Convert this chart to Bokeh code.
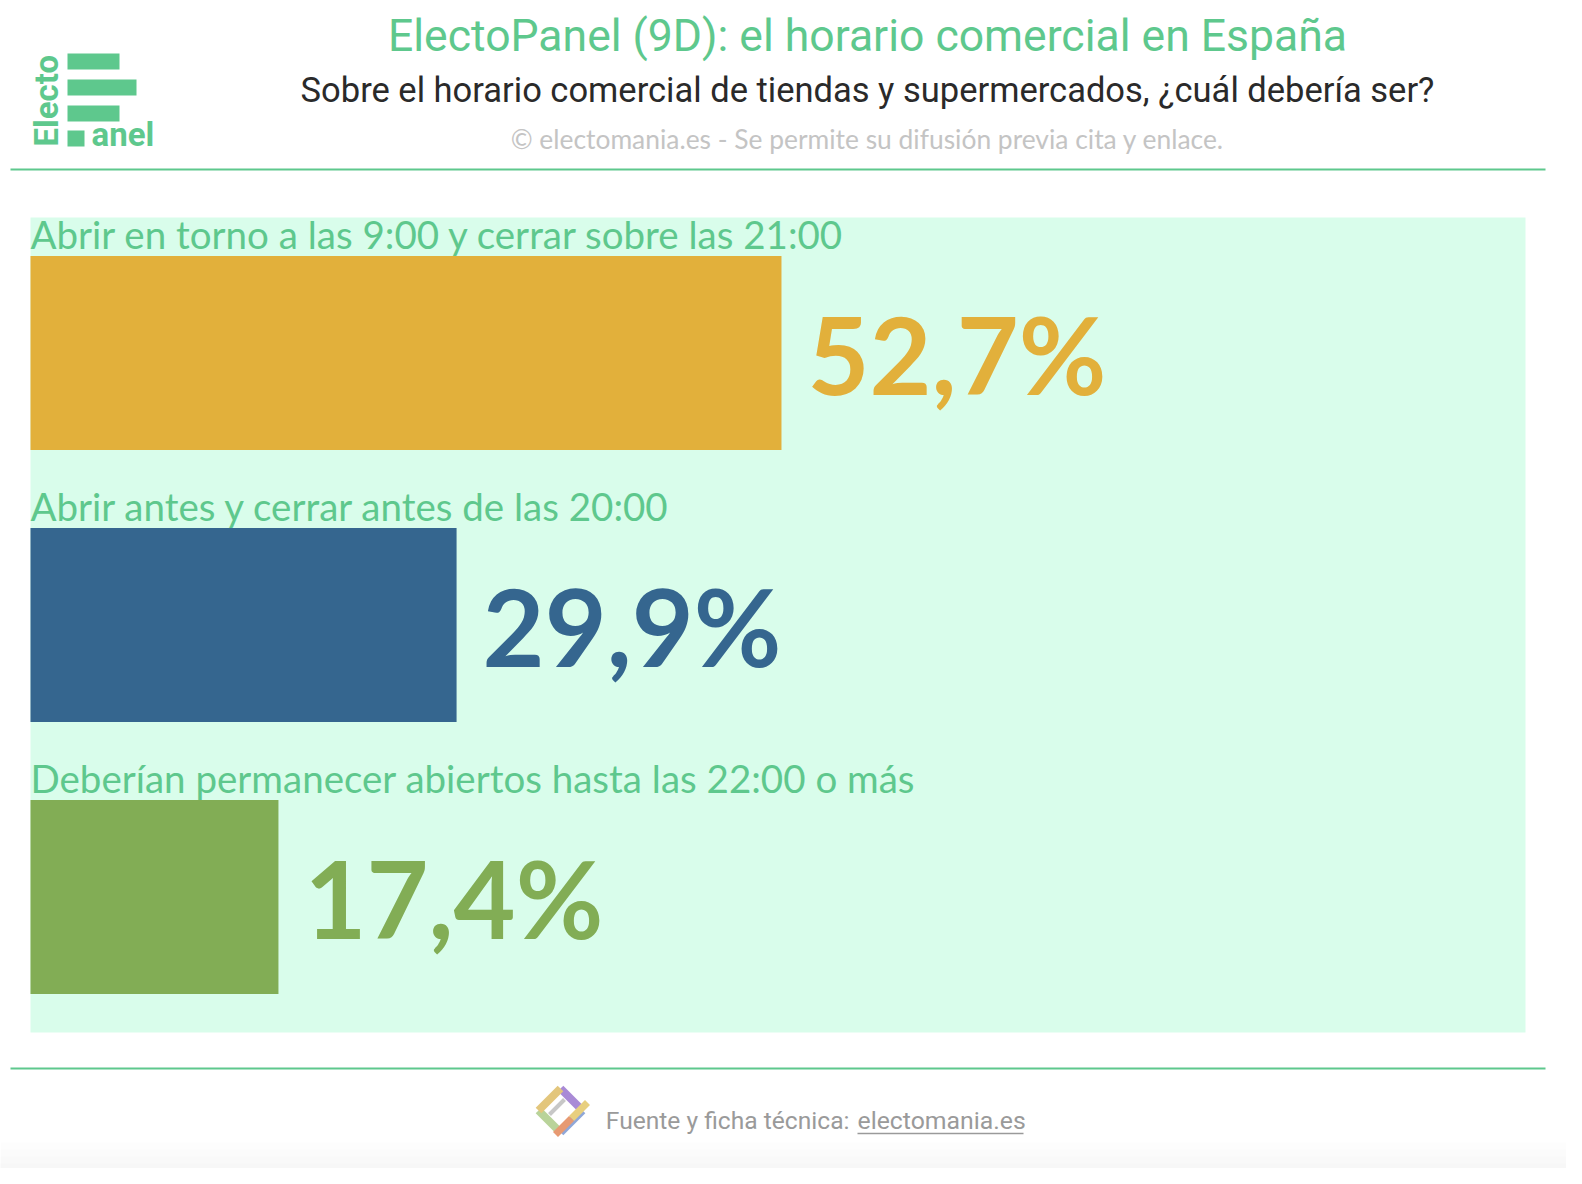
import numpy as np
from bokeh.plotting import figure
from bokeh.models import Range1d
from bokeh.core.properties import value
from bokeh.embed import file_html
from bokeh.resources import INLINE

# ---------------- data ----------------
categories = [
    "Abrir en torno a las 9:00 y cerrar sobre las 21:00",
    "Abrir antes y cerrar antes de las 20:00",
    "Deberían permanecer abiertos hasta las 22:00 o más",
]
values = [52.7, 29.9, 17.4]
bar_colors = ["#e2b03b", "#35668f", "#82ad55"]
value_labels = ["52,7%", "29,9%", "17,4%"]

title = "ElectoPanel (9D): el horario comercial en España"
subtitle = "Sobre el horario comercial de tiendas y supermercados, ¿cuál debería ser?"
credit = "© electomania.es - Se permite su difusión previa cita y enlace."
footer_a = "Fuente y ficha técnica:"
footer_b = "electomania.es"

# ---------------- layout ----------------
W, H = 1566, 1168
OFF = 8          # page margin
X0 = 38          # page x of 0 %
PX_PER_PCT = 14.25
Y0 = 360.5       # page y of first bar centre
ROW = 272.0      # px between rows

def X(px):
    return (px - X0) / PX_PER_PCT

def Y(py):
    return (py - Y0) / ROW

GREEN = "#5ec88d"

p = figure(width=W, height=H, output_backend="svg", toolbar_location=None,
           x_range=Range1d(X(OFF), X(OFF + W)),
           y_range=Range1d(Y(OFF + H), Y(OFF)),
           min_border=0, outline_line_color=None)
p.axis.visible = False
p.grid.visible = False
p.background_fill_color = "white"
p.border_fill_color = "white"

# footer light gray gradient band
for i, c in enumerate(["#fdfdfd", "#fbfbfb", "#f9f9f9", "#f7f7f7"]):
    p.quad(left=X(OFF), right=X(OFF + W), top=Y(1150 + i * 7), bottom=Y(1180),
           fill_color=c, line_color=None)

# mint panel
p.quad(left=X(38), right=X(1533), top=Y(225), bottom=Y(1040),
       fill_color="#d9fdeb", line_color=None)

# separator lines
p.segment(x0=[X(18), X(18)], x1=[X(1553), X(1553)], y0=[Y(177), Y(1076)], y1=[Y(177), Y(1076)],
          line_color=GREEN, line_width=2)

# bars
idx = list(range(len(values)))
p.hbar(y=idx, left=0, right=values, height=194 / ROW, fill_color=bar_colors,
       line_color=None)

# category labels above bars
cat_y = [i - (97 + 22) / ROW for i in idx]
p.text(x=[0, 0, 0], y=cat_y, text=categories, text_font=value("Lato"), text_font_size="38.5px",
       text_color=GREEN, text_baseline="middle", text_align="left")

# value labels
p.text(x=values, y=idx, text=value_labels, x_offset=26,
       text_font=value("Lato"), text_font_style="bold", text_font_size="107px",
       text_color=bar_colors, text_baseline="middle", text_align="left")

# titles
cx = X(875)
p.text(x=[cx], y=[Y(43)], text=[title], text_font=value("Roboto"), text_font_size="44.5px",
       text_color=GREEN, text_align="center", text_baseline="middle")
p.text(x=[cx], y=[Y(97)], text=[subtitle], text_font=value("Roboto"), text_font_size="34.5px",
       text_color="#2a2a2a", text_align="center", text_baseline="middle")
p.text(x=[cx], y=[Y(146)], text=[credit], text_font=value("Lato"), text_font_size="26.4px",
       text_color="#c4c4c4", text_align="center", text_baseline="middle")

# logo
for (l, r, t, b) in [(75, 127, 61, 77), (75, 144, 87, 103), (75, 127, 113, 129), (75, 92, 138, 154)]:
    p.quad(left=X(l), right=X(r), top=Y(t), bottom=Y(b), fill_color=GREEN, line_color=None)
p.text(x=[X(54)], y=[Y(154)], text=["Electo"], angle=np.pi / 2, text_font=value("Roboto"),
       text_font_style="bold", text_font_size="33px", text_color=GREEN,
       text_align="left", text_baseline="middle")
p.text(x=[X(99)], y=[Y(142)], text=["anel"], text_font=value("Roboto"),
       text_font_style="bold", text_font_size="33px", text_color=GREEN,
       text_align="left", text_baseline="middle")

# footer icon (gradient diamond)
icx, icy = 568, 1118
seg_cols = ["#a98ad6", "#8fa7d8", "#b9d39a", "#e3c67c"]
pts = [(icx, icy - 22), (icx + 22, icy), (icx, icy + 22), (icx - 22, icy)]
for k in range(4):
    a, b2 = pts[k], pts[(k + 1) % 4]
    p.line(x=[X(a[0]), X(b2[0])], y=[Y(a[1]), Y(b2[1])], line_color=seg_cols[k], line_width=8)
p.line(x=[X(icx + 11), X(icx + 27)], y=[Y(icy + 8), Y(icy - 8)], line_color="#e8cf7e", line_width=7)
p.line(x=[X(icx - 5), X(icx + 11)], y=[Y(icy + 24), Y(icy + 8)], line_color="#e79a72", line_width=7)
p.line(x=[X(icx - 11), X(icx + 4)], y=[Y(icy + 4), Y(icy - 11)], line_color="#c7c7c7", line_width=4)

p.text(x=[X(857)], y=[Y(1128)], text=[footer_a], text_font=value("Roboto"), text_font_size="24.6px",
       text_color="#9a9a9a", text_align="right", text_baseline="middle")
p.text(x=[X(865)], y=[Y(1128)], text=[footer_b], text_font=value("Roboto"), text_font_size="24.8px",
       text_color="#9a9a9a", text_align="left", text_baseline="middle")
p.segment(x0=[X(865)], x1=[X(1031)], y0=[Y(1141)], y1=[Y(1141)], line_color="#9a9a9a", line_width=1.5)

open("out.html", "w").write(file_html(p, INLINE))
